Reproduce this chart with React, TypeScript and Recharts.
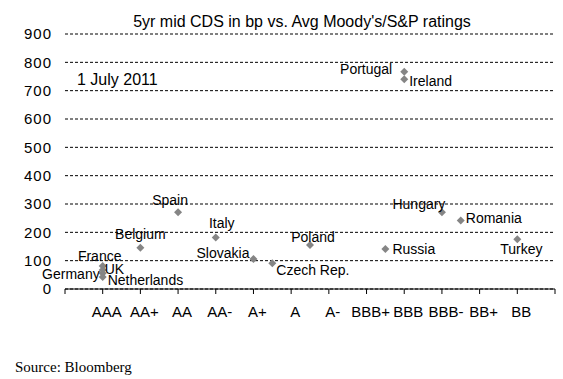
import { ScatterChart, Scatter, XAxis, YAxis, CartesianGrid } from 'recharts'

// rating scale, AAA = 0 ... BB = 11
const RATINGS = ['AAA', 'AA+', 'AA', 'AA-', 'A+', 'A', 'A-', 'BBB+', 'BBB', 'BBB-', 'BB+', 'BB']

const COUNTRIES = [
  'France', 'Germany', 'UK', 'Netherlands', 'Belgium', 'Spain', 'Italy', 'Slovakia',
  'Czech Rep.', 'Poland', 'Russia', 'Portugal', 'Ireland', 'Hungary', 'Romania', 'Turkey',
]
const RATING_SCORE = [0, 0, 0, 0, 1, 2, 3, 4, 4.5, 5.5, 7.5, 8, 8, 9, 9.5, 11]
const CDS_BP = [81, 56, 67, 42, 146, 271, 182, 106, 91, 155, 141, 767, 740, 271, 242, 176]

const Y_TICKS = [0, 100, 200, 300, 400, 500, 600, 700, 800, 900]
const X_TICKS = [-1, 0, 1, 2, 3, 4, 5, 6, 7, 8, 9, 10, 11, 12]

// label placement next to each marker: [dx, dy, anchor]
const LABEL_POS: Record<string, [number, number, string]> = {
  France: [-3, -10, 'middle'],
  Germany: [-3, 1, 'end'],
  UK: [2, -1, 'start'],
  Netherlands: [5, 3, 'start'],
  Belgium: [0, -14, 'middle'],
  Spain: [-8, -12, 'middle'],
  Italy: [6, -14, 'middle'],
  Slovakia: [-4, -6, 'end'],
  'Czech Rep.': [4, 7, 'start'],
  Poland: [3, -8, 'middle'],
  Russia: [7, 0, 'start'],
  Portugal: [-12, -3, 'end'],
  Ireland: [5, 2, 'start'],
  Hungary: [-23, -8, 'middle'],
  Romania: [5, -2, 'start'],
  Turkey: [4, 10, 'middle'],
}

const data = COUNTRIES.map((name, i) => ({ name, x: RATING_SCORE[i], y: CDS_BP[i] }))

const FONT = '"Liberation Sans", Arial, sans-serif'

const Diamond = (props: any) => {
  const { cx, cy, payload } = props
  const [dx, dy, anchor] = LABEL_POS[payload.name] || [5, 0, 'start']
  const r = 4
  return (
    <g>
      <path d={`M${cx},${cy - r}L${cx + r},${cy}L${cx},${cy + r}L${cx - r},${cy}Z`} fill="#858585" />
      <text
        x={cx + dx}
        y={cy + dy}
        dy="0.36em"
        textAnchor={anchor as any}
        fontFamily={FONT}
        fontSize={14}
        fill="#000"
      >
        {payload.name}
      </text>
    </g>
  )
}

const RatingTick = (props: any) => {
  const { x, y, payload } = props
  const label = RATINGS[payload.value] ?? ''
  return (
    <text x={x + 4} y={y + 21} textAnchor="middle" fontFamily={FONT} fontSize={15} fill="#000">
      {label}
    </text>
  )
}

export default function App() {
  return (
    <div style={{ position: 'absolute', left: 0, top: 0, width: 563, height: 379, background: '#fff' }}>
      <ScatterChart width={563} height={379} margin={{ top: 34, right: 8, left: 0, bottom: 50 }}>
        <CartesianGrid vertical={false} stroke="#000" strokeDasharray="3 2" />
        <XAxis
          type="number"
          dataKey="x"
          domain={[-1, 12]}
          ticks={X_TICKS}
          interval={0}
          height={40}
          axisLine={{ stroke: '#000' }}
          tickLine={{ stroke: '#000' }}
          tickSize={5}
          tick={<RatingTick />}
        />
        <YAxis
          type="number"
          dataKey="y"
          domain={[0, 900]}
          ticks={Y_TICKS}
          interval={0}
          width={65}
          axisLine={false}
          tickLine={false}
          tickSize={0}
          tickMargin={13}
          tick={{ fill: '#000', fontFamily: FONT, fontSize: 15, letterSpacing: 1 }}
        />
        <Scatter data={data} shape={<Diamond />} isAnimationActive={false} />
      </ScatterChart>
      <svg width={563} height={379} style={{ position: 'absolute', left: 0, top: 0, pointerEvents: 'none' }}>
        <text x={302} y={27} textAnchor="middle" fontFamily={FONT} fontSize={16} fill="#000">
          5yr mid CDS in bp vs. Avg Moody's/S&P ratings
        </text>
        <text x={77} y={85} fontFamily={FONT} fontSize={16} fill="#000">
          1 July 2011
        </text>
        <text x={15} y={372} fontFamily='"Liberation Serif", "Times New Roman", serif' fontSize={15} fill="#000">
          Source: Bloomberg
        </text>
      </svg>
    </div>
  )
}
